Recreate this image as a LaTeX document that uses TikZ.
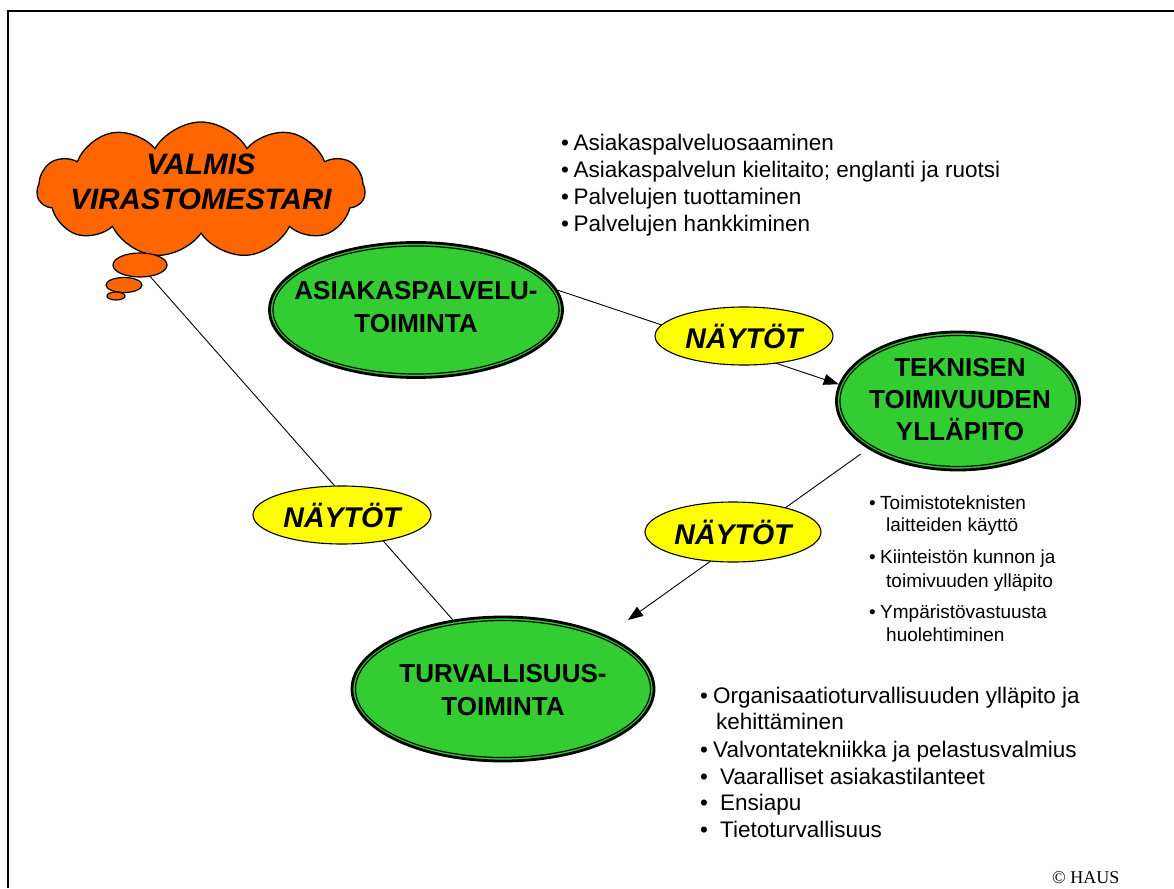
\documentclass[tikz,border=0pt]{standalone}
\usepackage{fontspec}
\setmainfont{Liberation Sans}
\newfontfamily\hausfont{Liberation Serif}
\usetikzlibrary{shapes.geometric,shapes.symbols,arrows.meta,backgrounds}
\definecolor{ggreen}{RGB}{51,204,51}
\definecolor{orng}{RGB}{255,102,0}
\definecolor{yel}{RGB}{255,255,0}
\newcommand\bulA[1]{\makebox[12.5pt][l]{•}#1}
\newcommand\bulB[1]{\makebox[11pt][l]{•}#1}
\newcommand\bulC[1]{\makebox[13pt][l]{•}#1}
\newcommand\bulD[1]{\makebox[20pt][l]{•}#1}
\begin{document}
\begin{tikzpicture}[x=1pt,y=-1pt,
  greenell/.style={ellipse, draw, line width=2.8pt, fill=ggreen, inner sep=0pt},
  greentxt/.style={inner sep=0pt, align=center, font=\bfseries\fontsize{26}{33}\selectfont},
  innerring/.style={draw, line width=1.2pt},
  yelell/.style={ellipse, draw, line width=1.1pt, fill=yel, inner sep=0pt,
    minimum width=178pt, minimum height=58pt, font=\bfseries\itshape\fontsize{28.5}{32}\selectfont},
  bubble/.style={ellipse, draw, line width=1.2pt, fill=orng, inner sep=0pt},
  conn/.style={line width=0.9pt},
  arr/.style={conn, -{Triangle[length=15pt,width=11pt]}},
  lista/.style={anchor=base west, inner sep=0pt, font=\fontsize{22.5}{27}\selectfont},
  listb/.style={anchor=base west, inner sep=0pt, font=\fontsize{19}{23}\selectfont},
  frame/.style={line width=2pt}
]
\useasboundingbox (0,0) rectangle (1174,888);

% cloud
\node[cloud, cloud puffs=11, cloud puff arc=120, aspect=2.4, draw, line width=1.3pt, fill=orng,
      minimum width=328pt, minimum height=136pt, inner sep=0pt] (cloud) at (201,190) {};
\node[inner sep=0pt, align=center, font=\bfseries\itshape\fontsize{29.5}{35}\selectfont] (cloudtxt) at (201,182) {VALMIS\\VIRASTOMESTARI};
\node[bubble, minimum width=54pt, minimum height=24pt] (bub1) at (140,265) {};
\node[bubble, minimum width=36pt, minimum height=15pt] (bub2) at (124,285) {};
\node[bubble, minimum width=18pt, minimum height=8pt] (bub3) at (116,296) {};

% green ellipses
\node[greenell, minimum width=293pt, minimum height=135pt] (asiak) at (416,310) {};
\draw[innerring] (asiak.center) ellipse [x radius=143pt, y radius=64pt];
\node[greentxt] (asiaktxt) at (416,307) {ASIAKASPALVELU-\\TOIMINTA};
\node[greenell, minimum width=243pt, minimum height=138pt] (tekn) at (958,401) {};
\draw[innerring] (tekn.center) ellipse [x radius=118pt, y radius=65.5pt];
\node[greentxt, font=\bfseries\fontsize{26}{32}\selectfont] (tekntxt) at (960,400) {TEKNISEN\\TOIMIVUUDEN\\YLLÄPITO};
\node[greenell, minimum width=302pt, minimum height=144pt] (turv) at (503,689) {};
\draw[innerring] (turv.center) ellipse [x radius=147.5pt, y radius=68.5pt];
\node[greentxt] (turvtxt) at (503,690) {TURVALLISUUS-\\TOIMINTA};

% yellow labels
\node[yelell] (nay1) at (744,336) {NÄYTÖT};
\node[yelell, minimum width=176pt, minimum height=60pt] (nay2) at (733,532) {NÄYTÖT};
\node[yelell] (nay3) at (342,515) {NÄYTÖT};

% connectors
\coordinate (a2end) at (628,620);
\begin{pgfonlayer}{background}
\draw[frame] (8,888) -- (8,11) -- (1174,11);
\draw[conn] (bub1) -- (turv.126);
\draw[arr] (asiak.8) -- (tekn.172);
\draw[arr, shorten <=9pt] (tekn.208) -- (a2end);
\end{pgfonlayer}

% bullet lists
\node[lista] (la) at (561,150) {\bulA{Asiakaspalveluosaaminen}};
\node[lista] (lb) at (561,177) {\bulA{Asiakaspalvelun kielitaito; englanti ja ruotsi}};
\node[lista] (lc) at (561,204) {\bulA{Palvelujen tuottaminen}};
\node[lista] (ld) at (561,231) {\bulA{Palvelujen hankkiminen}};

\node[listb] (ma) at (869,509) {\bulB{Toimistoteknisten}};
\node[listb] (mb) at (886,531) {laitteiden käyttö};
\node[listb] (mc) at (869,563) {\bulB{Kiinteistön kunnon ja}};
\node[listb] (md) at (886,587) {toimivuuden ylläpito};
\node[listb] (me) at (869,618) {\bulB{Ympäristövastuusta}};
\node[listb] (mf) at (886,641) {huolehtiminen};

\node[lista] (ra) at (700,703) {\bulC{Organisaatioturvallisuuden ylläpito ja}};
\node[lista] (rb) at (716,729) {kehittäminen};
\node[lista] (rc) at (700,757) {\bulC{Valvontatekniikka ja pelastusvalmius}};
\node[lista] (rd) at (700,784) {\bulD{Vaaralliset asiakastilanteet}};
\node[lista] (re) at (700,810) {\bulD{Ensiapu}};
\node[lista] (rf) at (700,837) {\bulD{Tietoturvallisuus}};

\node[anchor=base west, inner sep=0pt, font=\hausfont\fontsize{18}{20}\selectfont] (haus) at (1052,883) {© HAUS};
\end{tikzpicture}
\end{document}
